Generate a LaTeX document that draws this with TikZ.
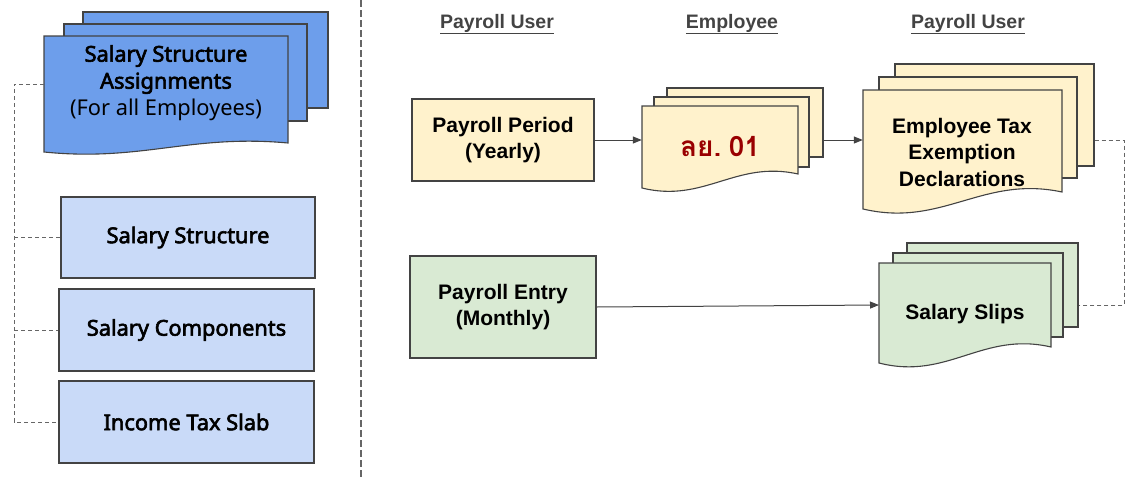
\documentclass[tikz,border=0pt]{standalone}
\usepackage{fontspec}
\setmainfont{Liberation Sans}
\newfontfamily\notosans{Noto Sans}[AutoFakeBold=2.8]
\newfontfamily\thaifont[Script=Thai]{Loma}
\usetikzlibrary{arrows.meta,calc}
\definecolor{linec}{HTML}{434343}
\definecolor{dashc}{HTML}{666666}
\definecolor{blueF}{HTML}{6D9EEB}
\definecolor{blueL}{HTML}{C9DAF8}
\definecolor{yel}{HTML}{FFF2CC}
\definecolor{grn}{HTML}{D9EAD3}
\definecolor{thred}{HTML}{990000}
\newcommand\docfront[6]{\filldraw[doc, fill=#6] (#1,#2) -- (#3,#2) -- (#3,#5) .. controls ({#1+0.6*(#3-#1)},{#5-1.0*(#4-#5)}) and ({#1+0.4*(#3-#1)},{#4+1.1*(#4-#5)}) .. (#1,#4) -- cycle;}
\begin{document}
\begin{tikzpicture}[x=1pt,y=-1pt,
  box/.style={draw=linec, line width=1.2pt, inner sep=0pt, align=center},
  doc/.style={draw=linec, line width=1.1pt},
  backdoc/.style={draw=linec, line width=1.1pt, inner sep=0pt},
  ghost/.style={inner sep=0pt},
  lbl/.style={align=center, inner sep=0pt},
  dashln/.style={draw=dashc, line width=0.9pt, dash pattern=on 4pt off 3pt},
  divln/.style={draw=dashc, line width=1.1pt, dash pattern=on 7pt off 3pt},
  arr/.style={draw=linec, line width=1pt, -{Triangle[length=9pt,width=7pt]}},
  hdr/.style={inner sep=0pt, text=linec, font=\fontsize{19.5}{22}\selectfont\bfseries},
  lfont/.style={font=\notosans\fontsize{21.8}{27}\selectfont\bfseries},
  rfont/.style={font=\fontsize{21}{26.5}\selectfont\bfseries}
]
\useasboundingbox (0,0) rectangle (1140,477);

% divider
\coordinate (dv1) at (361,0);
\coordinate (dv2) at (361,477);
\draw[divln] (dv1) -- (dv2);

% headers
\node[hdr] (h1) at (497,24) {\underline{Payroll User}};
\node[hdr] (h2) at (732,24) {\underline{Employee}};
\node[hdr] (h3) at (968,24) {\underline{Payroll User}};

% ---- left: salary structure assignments (multi-doc)
\node[backdoc, fill=blueF, minimum width=245, minimum height=96] (ssa3) at (205.5,60) {};
\node[backdoc, fill=blueF, minimum width=243, minimum height=97] (ssa2) at (185.5,72.5) {};
\docfront{44}{36}{288}{152}{143}{blueF}
\node[ghost, minimum width=244, minimum height=116] (ssaf) at (166,94) {};
\node[lbl, lfont] (ssa) at (166,83) {Salary Structure\\Assignments\\{\mdseries (For all Employees)}};

% left boxes
\node[box, fill=blueL, minimum width=254, minimum height=81, lfont] (ss) at (188,237.5) {Salary Structure};
\node[box, fill=blueL, minimum width=255, minimum height=82, lfont] (sc) at (186.5,330) {Salary Components};
\node[box, fill=blueL, minimum width=255, minimum height=82, lfont] (its) at (186.5,422) {Income Tax Slab};

% left dashed connectors
\coordinate (lc1) at (14,84);
\coordinate (lc2) at (14,422);
\draw[dashln] (ssaf.west |- lc1) -- (lc1) -- (lc2) -- (its.west);
\draw[dashln] (lc1 |- ss.west) -- (ss.west);
\draw[dashln] (lc1 |- sc.west) -- (sc.west);

% ---- right side
\node[box, fill=yel, minimum width=182, minimum height=82, rfont] (pp) at (503,140) {Payroll Period\\(Yearly)};
\node[box, fill=grn, minimum width=186, minimum height=102, rfont] (pe) at (503,307) {Payroll Entry\\(Monthly)};

% ly. 01 multi-doc
\node[backdoc, fill=yel, minimum width=156, minimum height=69] (ly3) at (745,122.5) {};
\node[backdoc, fill=yel, minimum width=155, minimum height=70] (ly2) at (731.5,132) {};
\docfront{642}{106}{798}{188}{174}{yel}
\node[ghost, minimum width=156, minimum height=82] (lyf) at (720,147) {};
\node[lbl, text=thred, font=\thaifont\fontsize{28}{30}\selectfont\bfseries] (ly) at (720,147) {ลย.\kern-2pt\ 01};

% employee tax exemption declarations
\node[backdoc, fill=yel, minimum width=199, minimum height=102] (etd3) at (994.5,115) {};
\node[backdoc, fill=yel, minimum width=198, minimum height=101] (etd2) at (978,127.5) {};
\docfront{863}{90}{1062}{209}{192}{yel}
\node[ghost, minimum width=199, minimum height=119] (etdf) at (962.5,149.5) {};
\node[lbl, rfont] (etd) at (962,152) {Employee Tax\\Exemption\\Declarations};

% salary slips
\node[backdoc, fill=grn, minimum width=171, minimum height=84] (sl3) at (992.5,285) {};
\node[backdoc, fill=grn, minimum width=170, minimum height=84] (sl2) at (978,295) {};
\docfront{879}{263}{1051}{363}{347}{grn}
\node[ghost, minimum width=172, minimum height=100] (slf) at (965,313) {};
\node[lbl, rfont] (sl) at (965,314) {Salary Slips};

% connectors
\draw[arr] (pp.east) -- (pp.east -| lyf.west);
\draw[arr] (ly3.east |- pp.east) -- (pp.east -| etdf.west);
\coordinate (slin) at (879,305);
\draw[arr] (pe.east) -- (slin);
\coordinate (dc1) at (1124,140);
\coordinate (dc2) at (1124,305);
\draw[dashln] (etd3.east |- dc1) -- (dc1) -- (dc2) -- (sl3.east |- dc2);
\end{tikzpicture}
\end{document}
